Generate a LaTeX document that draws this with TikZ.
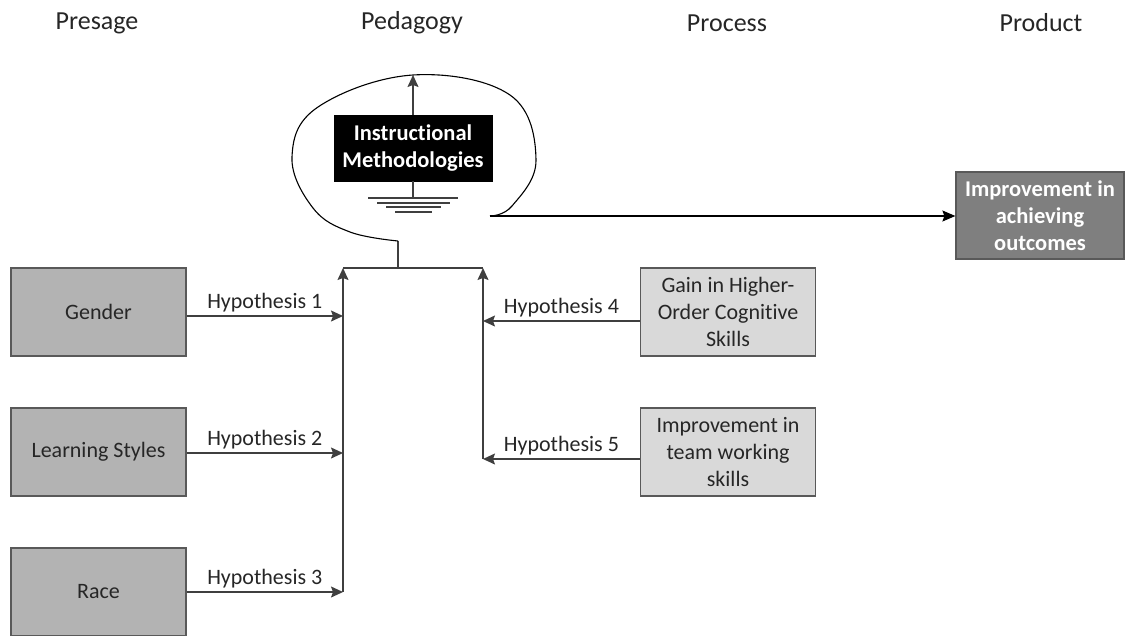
\documentclass[tikz,border=0pt]{standalone}
\usepackage{fontspec}
\setmainfont{Carlito}[Ligatures=NoCommon]
\usetikzlibrary{arrows.meta}
\definecolor{linecol}{HTML}{3F3F3F}
\definecolor{bordercol}{HTML}{595959}
\definecolor{presagefill}{HTML}{B3B3B3}
\definecolor{processfill}{HTML}{D9D9D9}
\definecolor{productfill}{HTML}{7F7F7F}
\definecolor{textcol}{HTML}{262626}
\newcommand{\fsz}{\fontsize{22}{27}\selectfont}
\newcommand{\fszb}{\fontsize{22.5}{27}\selectfont\bfseries}
\begin{document}
\begin{tikzpicture}[x=1pt,y=-1pt,
  box/.style={draw=bordercol, line width=1.2pt, minimum width=175pt, minimum height=88pt, align=center, inner sep=1pt, font=\fsz, text=textcol},
  presagebox/.style={box, fill=presagefill},
  processbox/.style={box, fill=processfill},
  productbox/.style={box, fill=productfill, text=white, font=\fszb, minimum width=168pt, minimum height=87pt},
  imbox/.style={draw=black, fill=black, text=white, font=\fszb, minimum width=158pt, minimum height=66pt, align=center, inner sep=1pt},
  header/.style={font=\fontsize{26}{30}\selectfont, text=textcol},
  conn/.style={draw=linecol, line width=1.3pt},
  arr/.style={conn, -{Stealth[length=12pt, width=11pt, inset=2pt]}},
  hyp/.style={font=\fsz, text=textcol, above, inner sep=3pt},
]
\useasboundingbox (0,0) rectangle (1125,635);

% headers
\node[header] (hPresage) at (97,23) {Presage};
\node[header] (hPedagogy) at (412,23) {Pedagogy};
\node[header] (hProcess) at (727,23) {Process};
\node[header] (hProduct) at (1041,23) {Product};

% boxes
\node[presagebox] (gender) at (98.5,312) {Gender};
\node[presagebox] (learning) at (98.5,452) {Learning Styles};
\node[presagebox] (race) at (98.5,592) {Race};
\node[processbox] (gain) at (728,312) {Gain in Higher-\\Order Cognitive\\Skills};
\node[processbox] (team) at (728,452) {Improvement in\\team working\\skills};
\node[productbox] (product) at (1040,215.5) {Improvement in\\achieving\\outcomes};
\node[imbox] (im) at (413,148) {Instructional\\Methodologies};

% junction coordinates
\coordinate (h1) at (343,316);
\coordinate (h2) at (343,453);
\coordinate (h3) at (343,592);
\coordinate (h4) at (483,321);
\coordinate (h5) at (483,459);
\coordinate (tl) at (343,268);
\coordinate (tr) at (483,268);
\coordinate (stub) at (398,268);
\coordinate (loopstart) at (398,241);
\coordinate (loopend) at (490,216);
\coordinate (looptop) at (413,75);

% presage arrows
\draw[arr] (gender.east |- h1) -- node[hyp] {Hypothesis 1} (h1);
\draw[arr] (learning.east |- h2) -- node[hyp] {Hypothesis 2} (h2);
\draw[arr] (race.east |- h3) -- node[hyp] {Hypothesis 3} (h3);
\draw[arr] (h3) -- (tl);

% process arrows
\draw[arr] (gain.west |- h4) -- node[hyp] {Hypothesis 4} (h4);
\draw[arr] (team.west |- h5) -- node[hyp] {Hypothesis 5} (h5);
\draw[arr] (h5) -- (tr);

% top bar and stub
\draw[conn] (tl) -- (tr);
\draw[conn] (stub) -- (loopstart);

% loop
\draw[line width=1.1pt, draw=black] plot[smooth, tension=0.65] coordinates {(loopstart) (350,232) (313,208) (292,157) (318,107) (looptop) (510,95) (536,160) (512,206) (loopend)};

% arrow to loop top
\draw[arr] (im.north) -- (looptop);

% ground symbol
\coordinate (gnd) at (413,198);
\draw[conn] (im.south) -- (gnd);
\draw[conn, line width=1.2pt] (368,198) -- (458,198);
\draw[conn, line width=1.2pt] (377,203) -- (450,203);
\draw[conn, line width=1.2pt] (386,207) -- (441,207);
\draw[conn, line width=1.2pt] (395,212) -- (432,212);

% to product
\draw[line width=1.3pt, -{Stealth[length=13pt, width=11pt, inset=2pt]}] (loopend) -- (product.west |- loopend);
\end{tikzpicture}
\end{document}
